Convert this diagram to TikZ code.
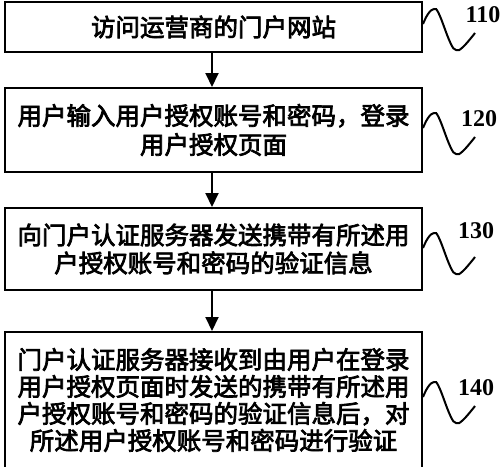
\documentclass[tikz,border=0pt]{standalone}
\usepackage{fontspec}
\newfontfamily\cjk{Noto Sans CJK SC}[FakeBold=3]
\newfontfamily\numfont{Liberation Serif}
\usetikzlibrary{arrows.meta}
\tikzset{
  stepbox/.style={draw, line width=2pt, minimum width=417pt, align=center, inner sep=0pt,
    font=\cjk\fontsize{24.5pt}{28pt}\selectfont},
  flowarrow/.style={line width=2pt, -{Triangle[length=14pt,width=13pt]}},
  squig/.style={line width=2pt},
  reflabel/.style={font=\numfont\bfseries\fontsize{24pt}{24pt}\selectfont, inner sep=0pt}
}
\begin{document}
\begin{tikzpicture}[x=1pt,y=-1pt]
\useasboundingbox (0,0) rectangle (500,466);
\clip (0,0) rectangle (500,466);
\node[stepbox, minimum height=50pt] (b1) at (213.5,27) {访问运营商的门户网站};
\node[stepbox, minimum height=84pt] (b2) at (213.5,130) {用户输入用户授权账号和密码，登录\\[1pt]用户授权页面};
\node[stepbox, minimum height=82pt] (b3) at (213.5,249) {向门户认证服务器发送携带有所述用\\户授权账号和密码的验证信息};
\node[stepbox, minimum height=136pt] (b4) at (213.5,400) {门户认证服务器接收到由用户在登录\\[-1pt]用户授权页面时发送的携带有所述用\\[-1pt]户授权账号和密码的验证信息后，对\\[-1pt]所述用户授权账号和密码进行验证};
\draw[flowarrow] (b1.south -| 212,0) -- (b2.north -| 212,0);
\draw[flowarrow] (b2.south -| 212,0) -- (b3.north -| 212,0);
\draw[flowarrow] (b3.south -| 212,0) -- (b4.north -| 212,0);
\foreach \b/\yy/\lab/\lx/\ly in {b1/24/110/483/15, b2/128/120/479/119, b3/248/130/476/231, b4/397/140/476/388}{
  \coordinate (s\lab) at (\b.east |- 0,\yy);
  \draw[squig, shift={(s\lab)}] plot[smooth, tension=0.7] coordinates
    {(0,0) (5,-10) (11,-15) (16,-10) (27,18) (33,26) (40,23) (52,9)};
  \node[reflabel] (l\lab) at (\lx,\ly) {\lab};
}
\end{tikzpicture}
\end{document}
